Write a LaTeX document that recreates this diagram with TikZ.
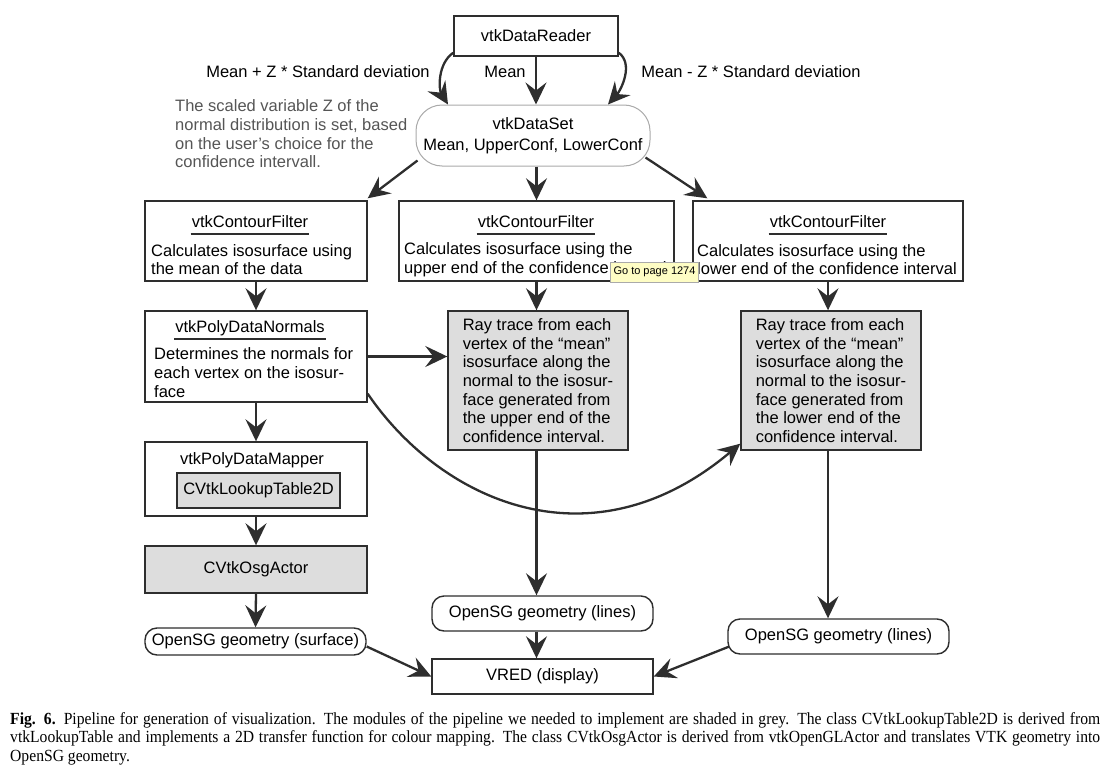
\documentclass[tikz,border=0pt]{standalone}
\usepackage{fontspec}
\setmainfont{Liberation Sans}
\newfontfamily\capfont[FakeStretch=0.92]{Liberation Serif}
\usetikzlibrary{arrows.meta}
\definecolor{ink}{HTML}{2E2E2E}
\definecolor{shade}{HTML}{DDDDDD}
\definecolor{soft}{HTML}{AAAAAA}
\definecolor{note}{HTML}{555555}
\definecolor{tipbg}{HTML}{FEFDC4}

\begin{document}
\begin{tikzpicture}[x=1pt, y=-1pt,
    font=\fontsize{16.5}{18.7}\selectfont,
    box/.style={draw=ink, line width=1.4pt, fill=white, inner sep=0pt},
    greybox/.style={box, fill=shade},
    pill/.style={box, rounded corners=12pt},
    ttl/.style={inner xsep=1pt, inner ysep=1pt, text depth=5pt, anchor=south},
    body/.style={inner sep=0pt, align=left, anchor=west},
    rule/.style={draw=ink, line width=1.2pt},
    flowarrow/.style={draw=ink, line width=2.3pt, -{Stealth[length=22pt, width=21pt, inset=8pt]}},
    capbox/.style={anchor=north west, inner sep=0pt, text width=1090pt, align=justify,
        font=\capfont\fontsize{17}{18.5}\selectfont},
]
    % Page size
    \useasboundingbox (0,0) rectangle (1116,768);

    % Reader and data set
    \node[box, minimum width=164pt, minimum height=40pt] (reader) at (536,36) {vtkDataReader};
    \node[box, draw=soft, line width=1pt, rounded corners=26pt, minimum width=234pt,
        minimum height=61pt, align=center] (ds) at (533,135.5) {vtkDataSet\\[2pt]Mean, UpperConf, LowerConf};

    % Labels
    \node (lplus) at (318,72) {Mean + Z * Standard deviation};
    \node (lmean) at (505,72) {Mean};
    \node (lminus) at (751,72) {Mean - Z * Standard deviation};
    \node[body, text=note] (hint) at (175,134) {The scaled variable Z of the\\normal distribution is set, based\\on the user’s choice for the\\confidence intervall.};

    % Contour filters
    \node[box, minimum width=222pt, minimum height=80pt] (cfl) at (256,241) {};
    \node[ttl] (cfl-t) at (250,234) {vtkContourFilter};
    \draw[rule] (cfl-t.south west) -- (cfl-t.south east);
    \node[body] (cfl-b) at (151,259.5) {Calculates isosurface using\\the mean of the data};

    \node[box, minimum width=275pt, minimum height=80pt] (cfm) at (536.5,241) {};
    \node[ttl] (cfm-t) at (536,234) {vtkContourFilter};
    \draw[rule] (cfm-t.south west) -- (cfm-t.south east);
    \node[body] (cfm-b) at (404,259.5) {Calculates isosurface using the\\upper end of the confidence interval};

    \node[box, minimum width=270pt, minimum height=80pt] (cfr) at (828,241) {};
    \node[ttl] (cfr-t) at (828,234) {vtkContourFilter};
    \draw[rule] (cfr-t.south west) -- (cfr-t.south east);
    \node[body] (cfr-b) at (697,259.5) {Calculates isosurface using the\\lower end of the confidence interval};

    % Normals
    \node[box, minimum width=222pt, minimum height=91pt] (nrm) at (256,356.5) {};
    \node[ttl] (nrm-t) at (250,339) {vtkPolyDataNormals};
    \draw[rule] (nrm-t.south west) -- (nrm-t.south east);
    \node[body] (nrm-b) at (154,372.5) {Determines the normals for\\each vertex on the isosur-\\face};

    % Ray tracing (grey)
    \node[greybox, minimum width=180pt, minimum height=139pt, align=left] (ry1) at (538,380.5)
        {Ray trace from each\\vertex of the “mean”\\isosurface along the\\normal to the isosur-\\face generated from\\the upper end of the\\confidence interval.};
    \node[greybox, minimum width=180pt, minimum height=139pt, align=left] (ry2) at (831,380.5)
        {Ray trace from each\\vertex of the “mean”\\isosurface along the\\normal to the isosur-\\face generated from\\the lower end of the\\confidence interval.};

    % Mapper, actor
    \node[box, minimum width=222pt, minimum height=74pt] (map) at (256,479) {};
    \node (map-t) at (252,460) {vtkPolyDataMapper};
    \node[greybox, minimum width=163pt, minimum height=35pt] (lut) at (258.5,490.5) {CVtkLookupTable2D};
    \node[greybox, minimum width=222pt, minimum height=47pt] (act) at (256,569.5) {CVtkOsgActor};

    % OpenSG geometry and display
    \node[pill, minimum width=221pt, minimum height=27pt] (surf) at (255.5,641.5) {OpenSG geometry (surface)};
    \node[pill, minimum width=221pt, minimum height=35pt] (ml) at (542.5,613.5) {OpenSG geometry (lines)};
    \node[pill, minimum width=221pt, minimum height=35pt] (rl) at (838.5,636.5) {OpenSG geometry (lines)};
    \node[box, minimum width=221pt, minimum height=35pt] (vred) at (542.5,676.5) {VRED (display)};

    % Arrows from the reader
    \draw[flowarrow] ([yshift=4pt]reader.south west) .. controls (437,64) and (439,90) .. ([xshift=-85pt]ds.north);
    \draw[flowarrow] (reader.south) -- (reader.south |- ds.north);
    \draw[flowarrow] ([yshift=4pt]reader.south east) .. controls (634,64) and (621,90) .. ([xshift=75pt]ds.north);

    % Arrows from the data set
    \draw[flowarrow] ([xshift=2pt,yshift=6pt]ds.south west) -- ([yshift=2pt]cfl.north east);
    \draw[flowarrow] (ds.south -| cfm.north) -- (cfm.north);
    \draw[flowarrow] ([xshift=-5pt,yshift=9pt]ds.south east) -- ([xshift=15pt,yshift=2pt]cfr.north west);

    % Left column
    \draw[flowarrow] (cfl.south) -- (nrm.north);
    \draw[flowarrow] (nrm.south) -- (map.north);
    \draw[flowarrow] (map.south) -- (act.north);
    \draw[flowarrow] (act.south) -- (surf.north);
    \draw[flowarrow] ([yshift=-5pt]surf.east) -- (vred.west);

    % Middle and right columns
    \draw[flowarrow] (cfm.south) -- (cfm.south |- ry1.north);
    \draw[flowarrow] (cfr.south) -- (cfr.south |- ry2.north);
    \draw[flowarrow] (nrm.east) -- (nrm.east -| ry1.west);
    \draw[flowarrow] ([yshift=9pt]nrm.south east) .. controls (440,500) and (590,570) .. ([yshift=7pt]ry2.south west);
    \draw[flowarrow] (ry1.south -| cfm.south) -- (cfm.south |- ml.north);
    \draw[flowarrow] (ml.south -| cfm.south) -- (cfm.south |- vred.north);
    \draw[flowarrow] (ry2.south -| cfr.south) -- (cfr.south |- rl.north);
    \draw[flowarrow] ([xshift=2pt,yshift=-10pt]rl.west) -- (vred.east);

    % Caption
    \node[capbox] (cap) at (10,712) {\textbf{Fig. 6.} Pipeline for generation of visualization. The modules of the pipeline we needed to implement are shaded in grey. The class CVtkLookupTable2D is derived from\linebreak vtkLookupTable and implements a 2D transfer function for colour mapping. The class CVtkOsgActor is derived from vtkOpenGLActor and translates VTK geometry into\linebreak OpenSG geometry.};

    % Tooltip
    \node[draw=soft, line width=0.4pt, fill=tipbg, inner xsep=3pt, inner ysep=2pt, minimum height=20pt,
        font=\fontsize{11}{12}\selectfont] (goto) at (654.5,272) {Go to page 1274};
\end{tikzpicture}
\end{document}
